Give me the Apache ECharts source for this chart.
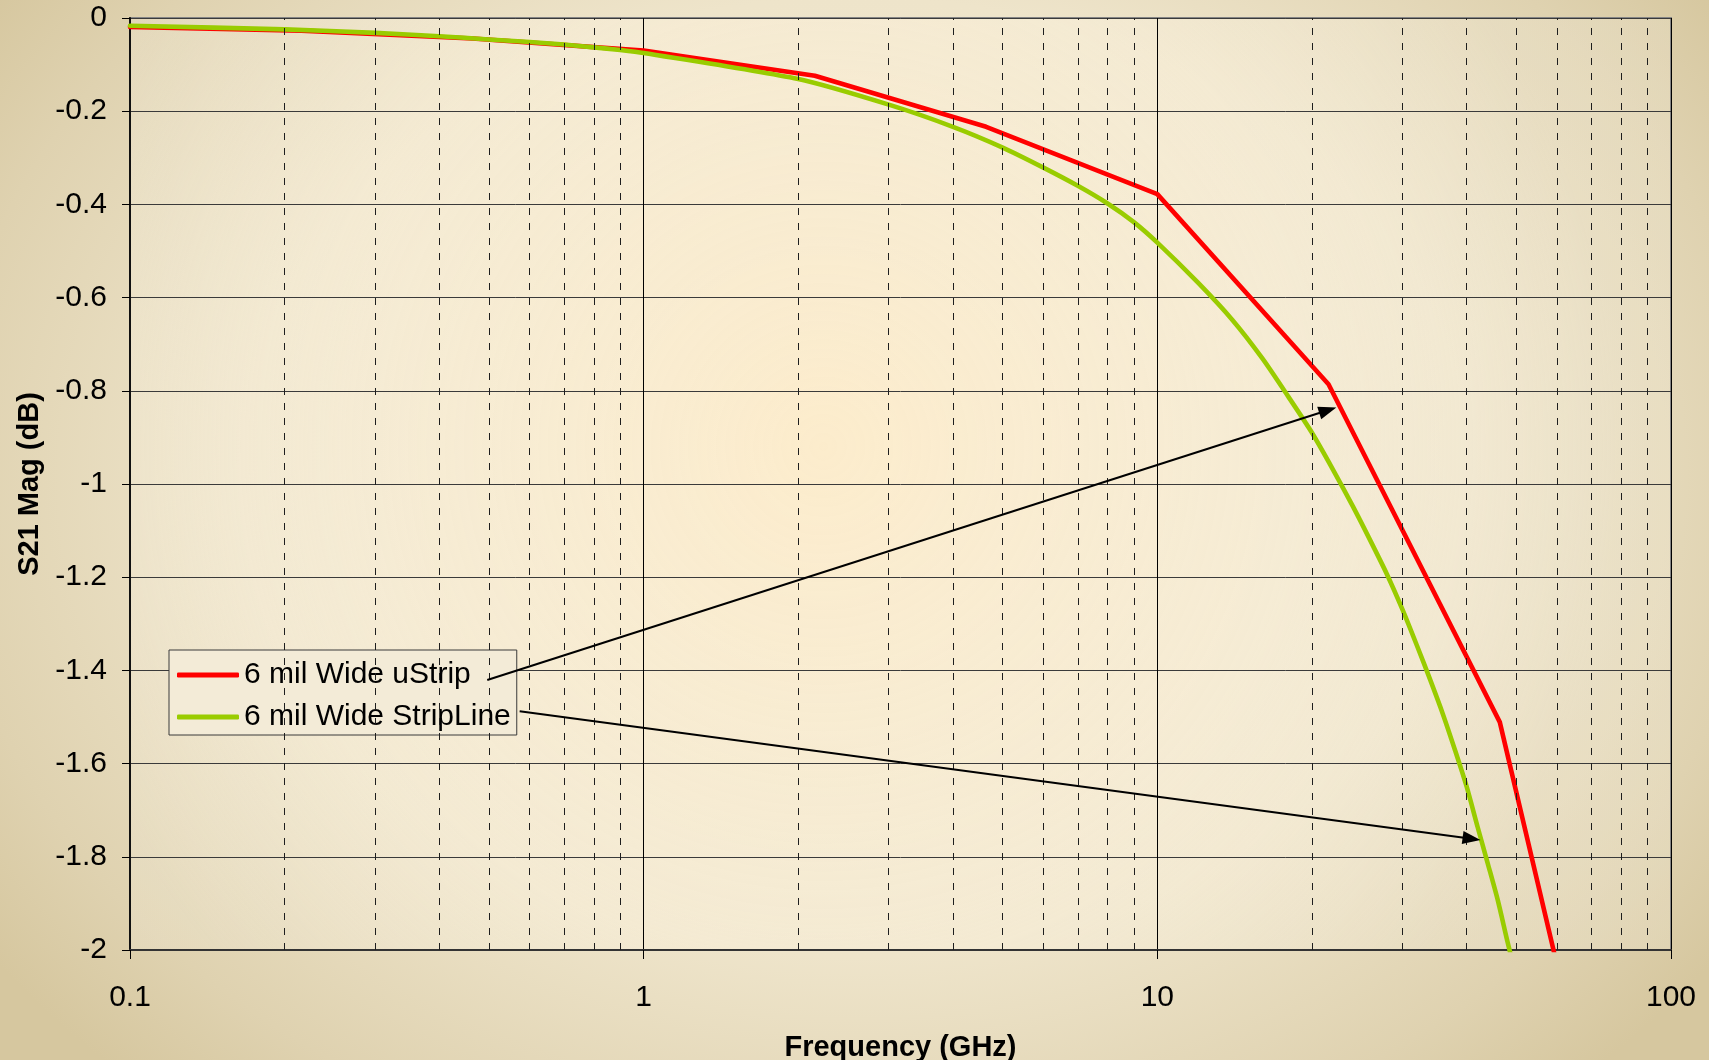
<!DOCTYPE html>
<html>
<head>
<meta charset="utf-8">
<script src="https://cdn.jsdelivr.net/npm/echarts@6/dist/echarts.min.js"></script>
<style>
html, body { margin: 0; padding: 0; width: 1709px; height: 1060px; overflow: hidden; }
body {
  background: radial-gradient(ellipse 62% 78% at 50% 45%, #f4ecd8 0%, #eee4ca 58%, #dfd2b0 86%, #d6c79f 100%);
}
#chart { width: 1709px; height: 1060px; }
</style>
</head>
<body>
<div id="chart"></div>
<script>
// Insertion loss of 6 mil wide traces, S21 magnitude vs frequency

// Microstrip trace: one sample per third of a decade
const freqUStrip = [0.1, 0.2154, 0.4642, 1, 2.154, 4.642, 10, 21.54, 46.42, 100];
const s21UStrip  = [-0.019, -0.027, -0.044, -0.070, -0.124, -0.2335, -0.378, -0.786, -1.511, -3.07];

// Stripline trace
const freqStripLine = [0.1, 0.2, 0.3, 0.4, 0.5, 0.6, 0.7, 0.8, 0.9,
  1, 2, 3, 4, 5, 6, 7, 8, 9, 10,
  12, 14, 16, 18, 20, 22, 24, 26, 28, 30, 32, 34, 36, 38, 40, 42, 44, 46, 48, 50];
const s21StripLine = [-0.0165, -0.0244, -0.032, -0.039, -0.046, -0.0515, -0.057, -0.063, -0.0687,
  -0.075, -0.131, -0.186, -0.2335, -0.278, -0.321, -0.360, -0.398, -0.438, -0.482,
  -0.568, -0.648, -0.730, -0.813, -0.890, -0.970, -1.047, -1.122, -1.194, -1.269,
  -1.346, -1.421, -1.495, -1.572, -1.649, -1.735, -1.815, -1.893, -1.980, -2.06];

// Minor (dashed) frequency gridlines within each decade
const minorFreqs = [0.2, 0.3, 0.4, 0.5, 0.6, 0.7, 0.8, 0.9,
  2, 3, 4, 5, 6, 7, 8, 9,
  20, 30, 40, 50, 60, 70, 80, 90];

const seriesNames = ['6 mil Wide uStrip', '6 mil Wide StripLine'];

// Callout arrows from the legend entries to each curve: [freq, dB] pairs
const calloutUStrip    = [[0.496, -1.4206], [21.47, -0.8416]];
const calloutStripLine = [[0.5735, -1.4877], [40.9, -1.7612]];

const FONT = '"Liberation Sans", Arial, Helvetica, sans-serif';

const chart = echarts.init(document.getElementById('chart'), null, { renderer: 'canvas' });

const pairs = (xs, ys) => xs.map((x, i) => [x, ys[i]]);

const option = {
  animation: false,
  backgroundColor: 'transparent',
  textStyle: { fontFamily: FONT },
  grid: {
    left: 130, top: 18, width: 1541, height: 932,
    outerBoundsMode: 'none',
    containLabel: false,
    show: true,
    borderColor: '#858585',
    borderWidth: 2,
    backgroundColor: new echarts.graphic.RadialGradient(0.45, 0.46, 0.85, [
      { offset: 0, color: 'rgba(255, 236, 200, 0.75)' },
      { offset: 0.6, color: 'rgba(250, 240, 218, 0.55)' },
      { offset: 1, color: 'rgba(246, 240, 224, 0.25)' }
    ])
  },
  legend: {
    data: seriesNames,
    orient: 'vertical',
    left: 169, top: 650,
    padding: [10, 6, 3, 8],
    itemGap: 12,
    itemWidth: 62,
    itemHeight: 5,
    icon: 'roundRect',
    backgroundColor: '#f3ebd7',
    borderColor: '#3a3a3a',
    borderWidth: 1,
    selectedMode: false,
    textStyle: { fontFamily: FONT, fontSize: 30, color: '#000' }
  },
  xAxis: {
    type: 'log',
    logBase: 10,
    min: 0.1,
    max: 100,
    name: 'Frequency (GHz)',
    nameLocation: 'middle',
    nameGap: 83,
    nameTextStyle: { fontFamily: FONT, fontSize: 29, fontWeight: 'bold', color: '#000' },
    axisLine: { show: true, onZero: false, lineStyle: { color: '#333', width: 2 } },
    axisTick: { show: true, inside: false, length: 9, lineStyle: { color: '#000', width: 1 } },
    axisLabel: { fontFamily: FONT, fontSize: 30, color: '#000', margin: 33 },
    splitLine: { show: true, lineStyle: { color: '#000', width: 1, type: 'solid' } }
  },
  yAxis: {
    type: 'value',
    min: -2,
    max: 0,
    interval: 0.2,
    name: 'S21 Mag (dB)',
    nameLocation: 'middle',
    nameGap: 84,
    nameTextStyle: { fontFamily: FONT, fontSize: 29, fontWeight: 'bold', color: '#000' },
    axisLine: { show: true, onZero: false, lineStyle: { color: '#111', width: 2 } },
    axisTick: { show: true, inside: false, length: 8, lineStyle: { color: '#000', width: 1 } },
    axisLabel: { fontFamily: FONT, fontSize: 30, color: '#000', margin: 23 },
    splitLine: { show: true, lineStyle: { color: '#3a3a3a', width: 1, type: 'solid' } }
  },
  series: [
    {
      name: 'minor-grid',
      type: 'line',
      data: [],
      z: 1,
      silent: true,
      markLine: {
        silent: true,
        symbol: ['none', 'none'],
        label: { show: false },
        lineStyle: { color: '#1e1e1e', width: 1, type: [7, 8] },
        emphasis: { disabled: true },
        data: minorFreqs.map(f => ({ xAxis: f }))
      }
    },
    {
      name: seriesNames[0],
      type: 'line',
      data: pairs(freqUStrip, s21UStrip),
      symbol: 'none',
      showSymbol: false,
      clip: true,
      z: 2,
      itemStyle: { color: '#ff0000' },
      lineStyle: { color: '#ff0000', width: 4.6, cap: 'round', join: 'round' }
    },
    {
      name: seriesNames[1],
      type: 'line',
      data: pairs(freqStripLine, s21StripLine),
      symbol: 'none',
      showSymbol: false,
      smooth: 0.25,
      clip: true,
      z: 3,
      itemStyle: { color: '#99cc00' },
      lineStyle: { color: '#99cc00', width: 4.6, cap: 'round', join: 'round' }
    },
    {
      name: 'callouts',
      type: 'line',
      data: [],
      z: 6,
      silent: true,
      markLine: {
        silent: true,
        symbol: ['none', 'triangle'],
        symbolSize: [13, 18],
        label: { show: false },
        lineStyle: { color: '#000', width: 2, type: 'solid' },
        emphasis: { disabled: true },
        data: [
          [{ coord: calloutUStrip[0] }, { coord: calloutUStrip[1] }],
          [{ coord: calloutStripLine[0] }, { coord: calloutStripLine[1] }]
        ]
      }
    }
  ]
};

chart.setOption(option);
</script>
</body>
</html>
